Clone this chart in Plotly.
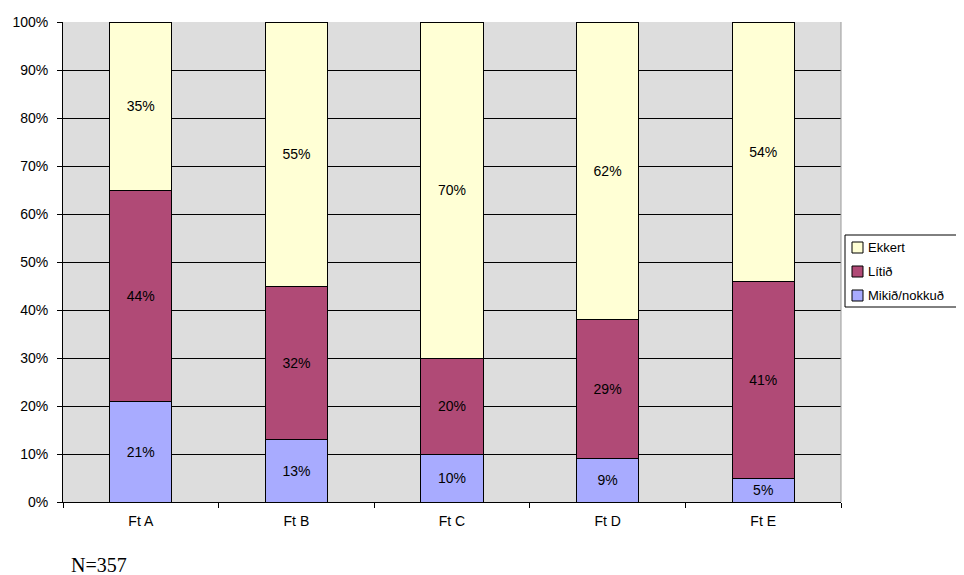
import plotly.graph_objects as go

categories = ["Ft A", "Ft B", "Ft C", "Ft D", "Ft E"]
mikid = [21, 13, 10, 9, 5]
litid = [44, 32, 20, 29, 41]
ekkert = [35, 55, 70, 62, 54]

series = [
    ("Mikið/nokkuð", mikid, "#A8ABFF"),
    ("Lítið", litid, "#B04A76"),
    ("Ekkert", ekkert, "#FFFFD5"),
]

FONT = "Liberation Sans, Arial, sans-serif"

# page body has an 8px margin; the figure is sized so the page matches 964x575
W, H = 956, 567
L, R, T, B = 55, 123, 14, 73
PW, PH = W - L - R, H - T - B


def px(xp):  # page pixel -> paper x
    return (xp - 8 - L) / PW


def py(yp):  # page pixel -> paper y
    return (H - B - (yp - 8)) / PH


fig = go.Figure()
for name, vals, col in series:
    fig.add_trace(go.Bar(
        x=categories, y=vals, name=name,
        marker=dict(color=col, line=dict(color="#000000", width=1)),
        text=[f"{v}%" for v in vals],
        textposition="inside", insidetextanchor="middle",
        textfont=dict(family=FONT, size=14, color="#000000"),
        hoverinfo="skip", showlegend=False,
    ))

shapes = [
    dict(type="line", xref="paper", yref="paper", x0=1, x1=1, y0=0, y1=1,
         line=dict(color="#999999", width=1)),
    # legend box
    dict(type="rect", xref="paper", yref="paper",
         x0=px(845), x1=px(990), y0=py(307), y1=py(235),
         line=dict(color="#000000", width=1), fillcolor="#FFFFFF", layer="above"),
]
annotations = []
legend_rows = [("Ekkert", "#FFFFD5", 247.5), ("Lítið", "#B04A76", 271.5),
               ("Mikið/nokkuð", "#A8ABFF", 295.5)]
for lab, col, yc in legend_rows:
    shapes.append(dict(type="rect", xref="paper", yref="paper",
                       x0=px(852), x1=px(863), y0=py(yc + 5.5), y1=py(yc - 5.5),
                       line=dict(color="#000000", width=1), fillcolor=col, layer="above"))
    annotations.append(dict(text=lab, xref="paper", yref="paper", x=px(866), y=py(yc),
                            xanchor="left", yanchor="middle", showarrow=False,
                            font=dict(family=FONT, size=13, color="#000000")))

annotations.append(dict(
    text="N=357", xref="paper", yref="paper", x=px(69), y=py(565),
    xanchor="left", yanchor="middle", showarrow=False,
    font=dict(family="Liberation Serif, Times New Roman, serif", size=20, color="#000000"),
))

fig.update_layout(
    barmode="stack",
    bargap=0.6,
    width=W, height=H,
    margin=dict(l=L, r=R, t=T, b=B, autoexpand=False),
    paper_bgcolor="#FFFFFF",
    plot_bgcolor="#DDDDDD",
    font=dict(family=FONT, size=14, color="#000000"),
    showlegend=False,
    xaxis=dict(
        showline=True, linecolor="#000000", linewidth=1,
        ticks="outside", ticklen=5, tickcolor="#000000",
        tickson="boundaries", showgrid=False,
        tickfont=dict(size=14), ticklabelstandoff=6,
    ),
    yaxis=dict(
        range=[0, 100], dtick=10, ticksuffix="%",
        showline=True, linecolor="#000000", linewidth=1,
        ticks="outside", ticklen=5, tickcolor="#000000",
        showgrid=True, gridcolor="#000000", gridwidth=1,
        zeroline=False, tickfont=dict(size=14), ticklabelstandoff=6,
    ),
    shapes=shapes,
    annotations=annotations,
)

fig.write_html("out.html")
